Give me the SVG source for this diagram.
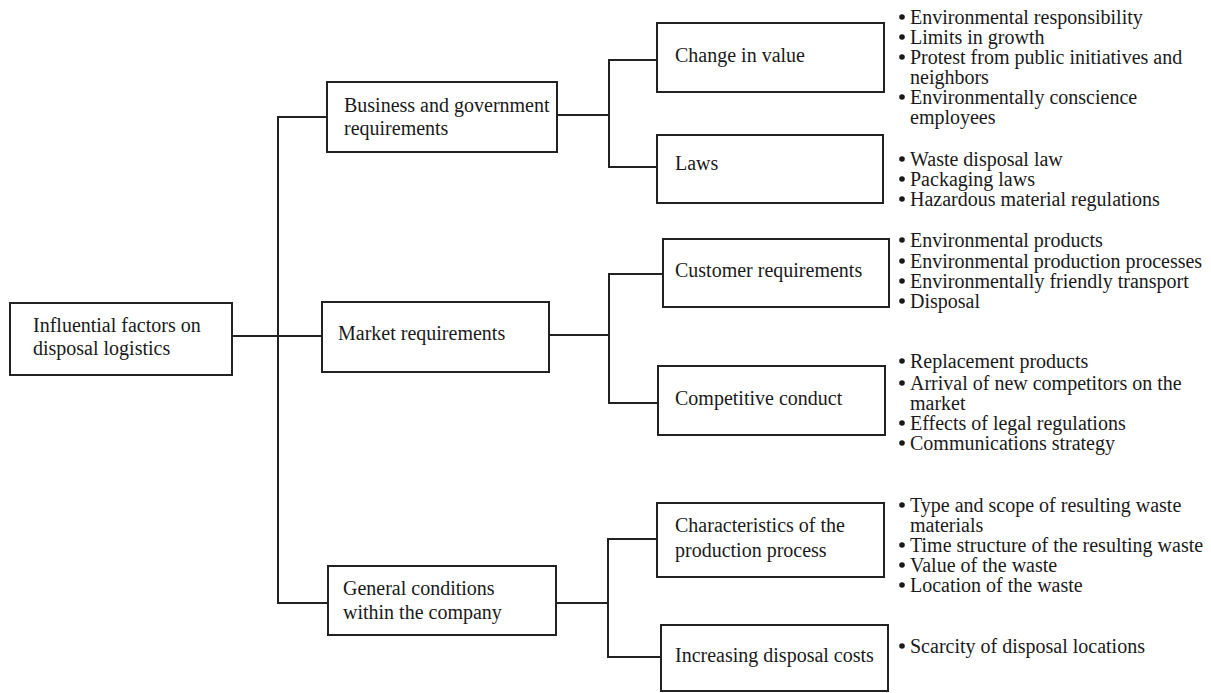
<svg xmlns="http://www.w3.org/2000/svg" width="1211" height="693" viewBox="0 0 1211 693">
<style>
.box{fill:#fff;stroke:#222;stroke-width:2}
.lbl{font-family:"Liberation Serif","Times New Roman",serif;font-size:20px;fill:#1a1a1a}
.bt{font-family:"Liberation Serif","Times New Roman",serif;font-size:20px;fill:#1a1a1a}
.dot{fill:#1a1a1a}
.con{fill:none;stroke:#222;stroke-width:2}
</style>
<rect width="1211" height="693" fill="#fff"/>
<g id="connectors">
<path class="con" d="M232,336H322"/>
<path class="con" d="M327,117H278V603H328"/>
<path class="con" d="M557,115H609M657,60H609V167H657"/>
<path class="con" d="M549,335H609M663,274H609V403H658"/>
<path class="con" d="M556,603H608M657,539H608V657H661"/>
</g>
<g id="root">
<rect class="box" x="10" y="303" width="222" height="72"/>
<text class="lbl" x="33" y="332">Influential factors on</text>
<text class="lbl" x="33" y="355">disposal logistics</text>
</g>
<g id="business">
<rect class="box" x="327" y="82" width="230" height="70"/>
<text class="lbl" x="344" y="112">Business and government</text>
<text class="lbl" x="344" y="135">requirements</text>
</g>
<g id="market">
<rect class="box" x="322" y="302" width="227" height="70"/>
<text class="lbl" x="338" y="340">Market requirements</text>
</g>
<g id="general">
<rect class="box" x="328" y="566" width="228" height="69"/>
<text class="lbl" x="343" y="595">General conditions</text>
<text class="lbl" x="343" y="619">within the company</text>
</g>
<g id="change">
<rect class="box" x="657" y="23" width="227" height="69"/>
<text class="lbl" x="675" y="62">Change in value</text>
</g>
<g id="laws">
<rect class="box" x="657" y="135" width="226" height="68"/>
<text class="lbl" x="675" y="170">Laws</text>
</g>
<g id="customer">
<rect class="box" x="663" y="239" width="226" height="68"/>
<text class="lbl" x="675" y="277">Customer requirements</text>
</g>
<g id="competitive">
<rect class="box" x="658" y="366" width="227" height="69"/>
<text class="lbl" x="675" y="405">Competitive conduct</text>
</g>
<g id="characteristics">
<rect class="box" x="657" y="503" width="227" height="74"/>
<text class="lbl" x="675" y="532">Characteristics of the</text>
<text class="lbl" x="675" y="557">production process</text>
</g>
<g id="increasing">
<rect class="box" x="661" y="625" width="227" height="66"/>
<text class="lbl" x="675" y="662">Increasing disposal costs</text>
</g>
<g id="change-items">
<circle class="dot" cx="902" cy="17" r="2.8"/><text class="bt" x="910" y="24">Environmental responsibility</text>
<circle class="dot" cx="902" cy="37" r="2.8"/><text class="bt" x="910" y="44">Limits in growth</text>
<circle class="dot" cx="902" cy="57" r="2.8"/><text class="bt" x="910" y="64">Protest from public initiatives and</text>
<text class="bt" x="910" y="84">neighbors</text>
<circle class="dot" cx="902" cy="97" r="2.8"/><text class="bt" x="910" y="104">Environmentally conscience</text>
<text class="bt" x="910" y="124">employees</text>
</g>
<g id="laws-items">
<circle class="dot" cx="902" cy="159" r="2.8"/><text class="bt" x="910" y="166">Waste disposal law</text>
<circle class="dot" cx="902" cy="179" r="2.8"/><text class="bt" x="910" y="186">Packaging laws</text>
<circle class="dot" cx="902" cy="199" r="2.8"/><text class="bt" x="910" y="206">Hazardous material regulations</text>
</g>
<g id="customer-items">
<circle class="dot" cx="902" cy="240" r="2.8"/><text class="bt" x="910" y="247">Environmental products</text>
<circle class="dot" cx="902" cy="261" r="2.8"/><text class="bt" x="910" y="268">Environmental production processes</text>
<circle class="dot" cx="902" cy="281" r="2.8"/><text class="bt" x="910" y="288">Environmentally friendly transport</text>
<circle class="dot" cx="902" cy="301" r="2.8"/><text class="bt" x="910" y="308">Disposal</text>
</g>
<g id="competitive-items">
<circle class="dot" cx="902" cy="361" r="2.8"/><text class="bt" x="910" y="368">Replacement products</text>
<circle class="dot" cx="902" cy="383" r="2.8"/><text class="bt" x="910" y="390">Arrival of new competitors on the</text>
<text class="bt" x="910" y="410">market</text>
<circle class="dot" cx="902" cy="423" r="2.8"/><text class="bt" x="910" y="430">Effects of legal regulations</text>
<circle class="dot" cx="902" cy="443" r="2.8"/><text class="bt" x="910" y="450">Communications strategy</text>
</g>
<g id="characteristics-items">
<circle class="dot" cx="902" cy="505" r="2.8"/><text class="bt" x="910" y="512">Type and scope of resulting waste</text>
<text class="bt" x="910" y="532">materials</text>
<circle class="dot" cx="902" cy="545" r="2.8"/><text class="bt" x="910" y="552">Time structure of the resulting waste</text>
<circle class="dot" cx="902" cy="565" r="2.8"/><text class="bt" x="910" y="572">Value of the waste</text>
<circle class="dot" cx="902" cy="585" r="2.8"/><text class="bt" x="910" y="592">Location of the waste</text>
</g>
<g id="increasing-items">
<circle class="dot" cx="902" cy="646" r="2.8"/><text class="bt" x="910" y="653">Scarcity of disposal locations</text>
</g>
</svg>
